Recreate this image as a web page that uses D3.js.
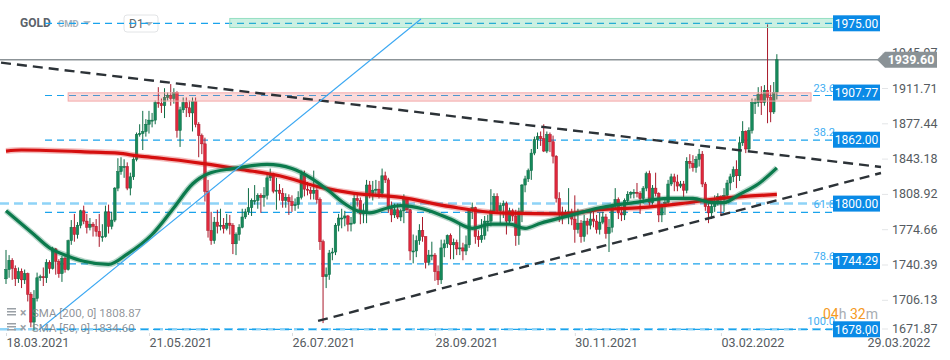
<!DOCTYPE html>
<html>
<head>
<meta charset="utf-8">
<script src="https://cdn.jsdelivr.net/npm/d3@7"></script>
<style>
  body { margin: 0; background: #fff; }
  svg { display: block; font-family: Roboto, "Noto Sans", sans-serif; }
</style>
</head>
<body>
<svg id="chart" width="950" height="360"></svg>
<script>
// daily GOLD candles from 18.03.2021 to 01.03.2022, [open, high, low, close]
var candles = [
  [1727,1755,1722,1736],[1736,1750,1728,1745],[1745,1747,1726,1737],[1737,1740,1720,1727],[1727,1738,1723,1734],
  [1734,1737,1718,1726],[1726,1736,1722,1732],[1732,1733,1705,1712],[1712,1714,1680,1685],[1685,1716,1677,1708],
  [1708,1733,1705,1728],[1728,1731,1725,1729],[1729,1738,1720,1728],[1728,1746,1723,1743],[1743,1745,1732,1737],
  [1737,1758,1736,1756],[1756,1757,1731,1744],[1744,1746,1728,1732],[1732,1749,1724,1747],[1747,1749,1733,1736],
  [1736,1765,1735,1764],[1764,1784,1760,1777],[1777,1790,1763,1770],[1770,1782,1766,1779],[1779,1794,1776,1793],
  [1793,1798,1780,1783],[1783,1790,1771,1777],[1777,1786,1774,1780],[1780,1782,1768,1778],[1778,1785,1768,1773],
  [1773,1790,1758,1768],[1768,1780,1763,1768],[1768,1798,1767,1792],[1792,1799,1771,1778],[1778,1792,1775,1784],
  [1784,1816,1782,1815],[1815,1844,1812,1831],[1831,1845,1828,1836],[1836,1843,1825,1836],[1836,1840,1813,1815],
  [1815,1830,1808,1826],[1826,1845,1823,1843],[1843,1869,1841,1867],[1867,1877,1865,1868],[1868,1890,1852,1870],
  [1870,1882,1865,1877],[1877,1890,1868,1881],[1881,1888,1874,1881],[1881,1900,1877,1898],[1898,1913,1893,1897],
  [1897,1902,1888,1895],[1895,1912,1883,1903],[1903,1908,1900,1905],[1905,1916,1895,1902],[1902,1912,1897,1908],
  [1908,1909,1864,1871],[1871,1894,1855,1891],[1891,1903,1888,1898],[1898,1903,1884,1893],[1893,1900,1884,1888],
  [1888,1903,1870,1899],[1899,1903,1874,1877],[1877,1879,1845,1866],[1866,1868,1848,1858],[1858,1864,1802,1812],
  [1812,1823,1767,1774],[1774,1792,1760,1764],[1764,1787,1761,1782],[1782,1794,1771,1778],[1778,1795,1774,1779],
  [1779,1786,1771,1776],[1776,1790,1774,1781],[1781,1789,1770,1779],[1779,1781,1751,1761],[1761,1772,1750,1770],
  [1770,1780,1764,1777],[1777,1795,1776,1787],[1787,1795,1785,1792],[1792,1815,1789,1796],[1796,1805,1788,1803],
  [1803,1818,1799,1803],[1803,1810,1795,1808],[1808,1810,1791,1806],[1806,1816,1797,1808],[1808,1829,1804,1825],
  [1825,1834,1822,1829],[1829,1830,1810,1812],[1812,1825,1794,1813],[1813,1819,1803,1810],[1810,1815,1796,1803],
  [1803,1810,1796,1806],[1806,1809,1789,1802],[1802,1808,1792,1798],[1798,1805,1793,1799],[1799,1812,1795,1806],
  [1806,1832,1804,1828],[1828,1832,1807,1814],[1814,1821,1808,1813],[1813,1816,1804,1810],[1810,1832,1804,1813],
  [1813,1815,1800,1804],[1804,1806,1755,1763],[1763,1765,1684,1729],[1729,1738,1718,1731],[1731,1755,1726,1752],
  [1752,1757,1745,1753],[1753,1781,1750,1779],[1779,1790,1773,1786],[1786,1795,1776,1786],[1786,1793,1778,1788],
  [1788,1789,1773,1780],[1780,1787,1773,1781],[1781,1809,1780,1805],[1805,1809,1797,1803],[1803,1806,1780,1790],
  [1790,1800,1781,1793],[1793,1823,1781,1818],[1818,1822,1805,1810],[1810,1822,1803,1813],[1813,1823,1807,1814],
  [1814,1822,1805,1810],[1810,1834,1806,1827],[1827,1831,1820,1823],[1823,1825,1791,1795],[1795,1802,1782,1789],
  [1789,1800,1786,1794],[1794,1800,1785,1787],[1787,1795,1783,1793],[1793,1809,1781,1804],[1804,1806,1791,1794],
  [1794,1795,1745,1754],[1754,1770,1742,1754],[1754,1769,1748,1764],[1764,1780,1760,1774],[1774,1787,1763,1768],
  [1768,1768,1737,1743],[1743,1755,1740,1750],[1750,1763,1745,1750],[1750,1752,1725,1734],[1734,1740,1721,1726],
  [1726,1765,1722,1757],[1757,1765,1748,1761],[1761,1770,1757,1769],[1769,1771,1746,1760],[1760,1766,1746,1762],
  [1762,1765,1750,1756],[1756,1781,1750,1757],[1757,1762,1745,1754],[1754,1769,1750,1760],[1760,1795,1757,1793],
  [1793,1801,1785,1796],[1796,1797,1761,1768],[1768,1774,1758,1765],[1765,1785,1762,1769],[1769,1788,1765,1783],
  [1783,1789,1773,1783],[1783,1814,1778,1793],[1793,1810,1792,1807],[1807,1810,1790,1793],[1793,1801,1781,1798],
  [1798,1803,1786,1800],[1800,1802,1770,1783],[1783,1796,1780,1793],[1793,1795,1783,1788],[1788,1794,1759,1769],
  [1769,1796,1760,1792],[1792,1819,1782,1818],[1818,1827,1811,1824],[1824,1834,1821,1832],[1832,1853,1823,1849],
  [1849,1865,1847,1862],[1862,1869,1853,1865],[1865,1870,1856,1863],[1863,1877,1850,1851],[1851,1870,1849,1867],
  [1867,1869,1850,1860],[1860,1866,1839,1846],[1846,1847,1801,1805],[1805,1811,1782,1791],[1791,1797,1780,1788],
  [1788,1794,1786,1791],[1791,1815,1780,1792],[1792,1795,1779,1785],[1785,1808,1762,1775],[1775,1795,1771,1781],
  [1781,1784,1762,1768],[1768,1789,1763,1783],[1783,1786,1770,1779],[1779,1793,1775,1785],[1785,1792,1777,1783],
  [1783,1789,1771,1775],[1775,1791,1770,1782],[1782,1792,1780,1787],[1787,1790,1766,1771],[1771,1785,1753,1777],
  [1777,1800,1772,1798],[1798,1815,1794,1804],[1804,1806,1785,1791],[1791,1797,1783,1789],[1789,1805,1784,1803],
  [1803,1812,1801,1809],[1809,1812,1805,1811],[1811,1814,1805,1811],[1811,1820,1806,1810],[1810,1812,1790,1805],
  [1805,1817,1800,1815],[1815,1831,1812,1829],[1829,1832,1798,1801],[1801,1818,1799,1815],[1815,1830,1807,1810],
  [1810,1811,1782,1789],[1789,1800,1782,1797],[1797,1806,1789,1801],[1801,1823,1799,1819],[1819,1829,1817,1826],
  [1826,1829,1812,1821],[1821,1828,1812,1817],[1817,1822,1815,1819],[1819,1822,1804,1813],[1813,1845,1810,1841],
  [1841,1848,1834,1839],[1839,1847,1831,1835],[1835,1846,1830,1843],[1843,1853,1836,1848],[1848,1851,1816,1819],
  [1819,1821,1793,1797],[1797,1802,1781,1791],[1791,1801,1785,1797],[1797,1808,1792,1801],[1801,1810,1798,1807],
  [1807,1808,1788,1804],[1804,1815,1792,1808],[1808,1823,1805,1820],[1820,1829,1813,1826],[1826,1836,1821,1833],
  [1833,1842,1815,1827],[1827,1865,1822,1859],[1859,1880,1856,1870],[1870,1871,1849,1853],[1853,1874,1850,1871],
  [1871,1902,1868,1898],[1898,1902,1887,1898],[1898,1913,1894,1906],[1906,1914,1886,1898],[1898,1915,1895,1910],
  [1910,1974,1878,1903],[1903,1915,1879,1889],[1889,1918,1887,1908],[1908,1945,1901,1939.6]
]

// moving averages, [bar index, value]
var sma200 = [[0,1851],[5,1852],[28,1850],[36,1849],[43,1846],[50,1844],[63,1839],[76,1833],[88,1827],
  [101,1816],[112,1810],[127,1806],[143,1797],[159,1791],[179,1790],[191,1794],[204,1796],[217,1800],[230,1805],[248,1808.87]]
var sma50 = [[0,1793],[9,1770],[14,1757],[20,1749],[25,1744],[33,1741],[39,1751],[47,1770],[54,1796],[60,1819],
  [65,1829],[73,1834],[84,1838],[92,1834],[98,1825],[104,1812],[108,1802],[113,1793],[117,1791],[123,1796],
  [127,1798],[134,1795],[143,1785],[150,1776],[156,1780],[162,1780],[167,1776],[172,1781],[181,1788],[191,1796],
  [202,1801],[213,1805],[221,1805],[227,1801],[231,1801],[236,1809],[242,1819],[248,1834.6]]

var levels = [1975.00, 1907.77, 1862.00, 1800.00, 1744.29, 1678.00]
var fibHigh = 1975, fibLow = 1678
var fibRatios = [23.6, 38.2, 61.8, 78.6, 100]
var fibTexts = ['23.6', '38.2', '61.8', '78.6', '100.0']
var yTicks = [1945.97, 1911.71, 1877.44, 1843.18, 1808.92, 1774.66, 1740.39, 1706.13, 1671.87]
var xTickIdx = [0, 46, 92, 138, 183, 230, 277]
var xTickLabels = ['18.03.2021', '21.05.2021', '26.07.2021', '28.09.2021', '30.11.2021', '03.02.2022', '29.03.2022']
var lastPrice = 1939.60
// trend lines, [bar index, price]
var downTrend = [[-1.6, 1936.8], [281.5, 1835.5]]
var upTrend = [[100.4, 1686.1], [281.5, 1829.7]]
var blueRay = [[10.6, 1677.5], [133.5, 1979.2]]
// zones, [from bar, to bar, low, high]
var pinkZone = [20, 259, 1899.5, 1907.5]
var greenZone = [72, 266.4, 1970.9, 1979.7]

var plotRight = 880
var svg = d3.select('#chart')
var x = d3.scaleLinear().domain([0, 277]).range([6, 867])
var y = d3.scaleLinear().domain([1671.87, 1975]).range([335.6, 23.3])

var UP = '#16895b', UP_DARK = '#0d6b44', DN = '#e0283c', DN_DARK = '#a9192a'
var FIB = '#1aa3ec'

// header
svg.append('text').attr('x', 20).attr('y', 27).attr('font-size', 12).attr('font-weight', 'bold')
    .attr('fill', '#5b6269').text('GOLD')
svg.append('text').attr('x', 58).attr('y', 27).attr('font-size', 9.5).attr('font-weight', 'bold')
    .attr('fill', '#aab2ba').text('CMD')
svg.append('path').attr('d', 'M83,21 L91,21 L87,25 Z').attr('fill', '#b8bec4')
svg.append('rect').attr('x', 124).attr('y', 15).attr('width', 34).attr('height', 17).attr('rx', 3)
    .attr('fill', 'none').attr('stroke', '#e2e4e6')
svg.append('text').attr('x', 129).attr('y', 28).attr('font-size', 12).attr('fill', '#666').text('D1')
svg.append('path').attr('d', 'M145,22 L153,22 L149,26 Z').attr('fill', '#b0b6bc')

// horizontal level lines (light blue, full width)
svg.append('line').attr('x1', 0).attr('x2', 833).attr('y1', y(1800)).attr('y2', y(1800))
    .attr('stroke', '#8fd3f7').attr('stroke-width', 2.5).attr('stroke-dasharray', '9,5')
svg.append('line').attr('x1', 0).attr('x2', 833).attr('y1', y(1678)).attr('y2', y(1678))
    .attr('stroke', '#8fd3f7').attr('stroke-width', 2.5).attr('stroke-dasharray', '9,5')

// fibonacci lines
var fibAll = [0].concat(fibRatios)
fibAll.forEach(function(r) {
    var v = fibHigh - (fibHigh - fibLow) * r / 100
    svg.append('line').attr('x1', 45).attr('x2', 833).attr('y1', y(v)).attr('y2', y(v))
        .attr('stroke', FIB).attr('stroke-width', 1.2).attr('stroke-dasharray', '7,5')
})
fibRatios.forEach(function(r, i) {
    var v = fibHigh - (fibHigh - fibLow) * r / 100
    svg.append('text').attr('x', 835).attr('y', y(v) - 4).attr('text-anchor', 'end')
        .attr('font-size', 11).attr('fill', '#42aef2').text(fibTexts[i])
})

// current price line
svg.append('line').attr('x1', 0).attr('x2', plotRight).attr('y1', y(lastPrice)).attr('y2', y(lastPrice))
    .attr('stroke', '#8c9397').attr('stroke-width', 1.3)

// candles
var g = svg.append('g')
candles.forEach(function(c, i) {
    var up = c[3] >= c[0]
    g.append('line').attr('x1', x(i)).attr('x2', x(i)).attr('y1', y(c[1])).attr('y2', y(c[2]))
        .attr('stroke', up ? UP_DARK : DN_DARK).attr('stroke-width', 1)
    var top = y(Math.max(c[0], c[3])), bot = y(Math.min(c[0], c[3]))
    g.append('rect').attr('x', x(i) - 1.3).attr('width', 2.6)
        .attr('y', top).attr('height', Math.max(1, bot - top))
        .attr('fill', up ? UP : DN).attr('stroke', up ? UP_DARK : DN_DARK).attr('stroke-width', 0.5)
})

// zones drawn over candles
function zone(z, fill, stroke) {
    svg.append('rect').attr('x', x(z[0])).attr('width', x(z[1]) - x(z[0]))
        .attr('y', y(z[3])).attr('height', y(z[2]) - y(z[3]))
        .attr('fill', fill).attr('stroke', stroke).attr('stroke-width', 1)
}
zone(pinkZone, 'rgba(240,110,110,0.25)', '#f4a9a9')
zone(greenZone, 'rgba(70,200,150,0.28)', '#95dfc2')

// moving averages
var smaLine = d3.line().x(function(d) { return x(d[0]) }).y(function(d) { return y(d[1]) }).curve(d3.curveMonotoneX)
svg.append('path').attr('d', smaLine(sma200)).attr('fill', 'none').attr('stroke', 'rgba(220,30,30,0.3)').attr('stroke-width', 6)
svg.append('path').attr('d', smaLine(sma200)).attr('fill', 'none').attr('stroke', '#d50f0f').attr('stroke-width', 3.2)
svg.append('path').attr('d', smaLine(sma50)).attr('fill', 'none').attr('stroke', 'rgba(15,120,80,0.3)').attr('stroke-width', 6)
svg.append('path').attr('d', smaLine(sma50)).attr('fill', 'none').attr('stroke', '#0b7a4c').attr('stroke-width', 3.2)

// trend lines
var tl = d3.line().x(function(d) { return x(d[0]) }).y(function(d) { return y(d[1]) })
svg.append('path').attr('d', tl(downTrend)).attr('stroke', '#2c3237').attr('stroke-width', 2.4)
    .attr('stroke-dasharray', '10,6').attr('fill', 'none')
svg.append('path').attr('d', tl(upTrend)).attr('stroke', '#2c3237').attr('stroke-width', 2.4)
    .attr('stroke-dasharray', '10,6').attr('fill', 'none')
svg.append('path').attr('d', tl(blueRay)).attr('stroke', '#3aa7f2').attr('stroke-width', 1.1).attr('fill', 'none')

// right axis
var yAxis = d3.axisRight(y).tickValues(yTicks).tickFormat(d3.format('.2f')).tickSize(6).tickPadding(4)
var ya = svg.append('g').attr('transform', 'translate(' + (plotRight + 2) + ',0)').call(yAxis)
ya.select('.domain').remove()
ya.selectAll('line').attr('stroke', '#e3e5e7')
ya.selectAll('text').attr('font-size', 12.5).attr('fill', '#555b61').attr('font-family', 'Roboto, sans-serif')
ya.selectAll('.tick').attr('transform', function(d) { return 'translate(0,' + Math.min(y(d), 329) + ')' })

// level label boxes
levels.forEach(function(v) {
    svg.append('rect').attr('x', 833).attr('y', y(v) - 8).attr('width', 47).attr('height', 16).attr('fill', '#0a8ae6')
    svg.append('text').attr('x', 856.5).attr('y', y(v) + 4.3).attr('text-anchor', 'middle')
        .attr('font-size', 12).attr('fill', '#fff').text(v.toFixed(2))
})

// last price tag
var ly = y(lastPrice)
svg.append('path').attr('d', 'M877,' + ly + ' L885,' + (ly - 8) + ' L937,' + (ly - 8) + ' L937,' + (ly + 8) + ' L885,' + (ly + 8) + ' Z')
    .attr('fill', '#8a9296')
svg.append('text').attr('x', 911).attr('y', ly + 4.5).attr('text-anchor', 'middle').attr('font-size', 12.5)
    .attr('font-weight', 'bold').attr('fill', '#fff').text(lastPrice.toFixed(2))

// countdown
var cd = svg.append('text').attr('x', 823).attr('y', 319).attr('font-size', 14)
cd.append('tspan').attr('fill', '#f59a23').text('04')
cd.append('tspan').attr('fill', '#a8adb2').text('h ')
cd.append('tspan').attr('fill', '#f59a23').text('32')
cd.append('tspan').attr('fill', '#a8adb2').text('m')

// x axis
var xAxis = d3.axisBottom(x).tickValues(xTickIdx).tickFormat(function(d, i) { return xTickLabels[i] })
    .tickSize(3).tickPadding(2)
var xa = svg.append('g').attr('transform', 'translate(0,333)').call(xAxis)
xa.select('.domain').remove()
xa.selectAll('line').attr('stroke', '#d9dcdf')
xa.selectAll('text').attr('text-anchor', 'start').attr('font-size', 12.5).attr('fill', '#555b61')
    .attr('font-family', 'Roboto, sans-serif')

// legend
var legend = [['SMA [200, 0] 1808.87', 313], ['SMA [50, 0] 1834.60', 328]]
legend.forEach(function(l) {
    var ty = l[1]
    for (var k = 0; k < 3; k++)
        svg.append('rect').attr('x', 7).attr('y', ty - 5 + k * 3).attr('width', 9).attr('height', 1.5).attr('fill', '#9aa0a6')
    svg.append('text').attr('x', 20).attr('y', ty + 4).attr('font-size', 12).attr('font-weight', 'bold')
        .attr('fill', '#9aa0a6').text('\u00d7')
    svg.append('text').attr('x', 32).attr('y', ty + 4).attr('font-size', 11.5).attr('fill', '#7b8187')
        .attr('fill-opacity', 0.85).text(l[0])
})
</script>
</body>
</html>
